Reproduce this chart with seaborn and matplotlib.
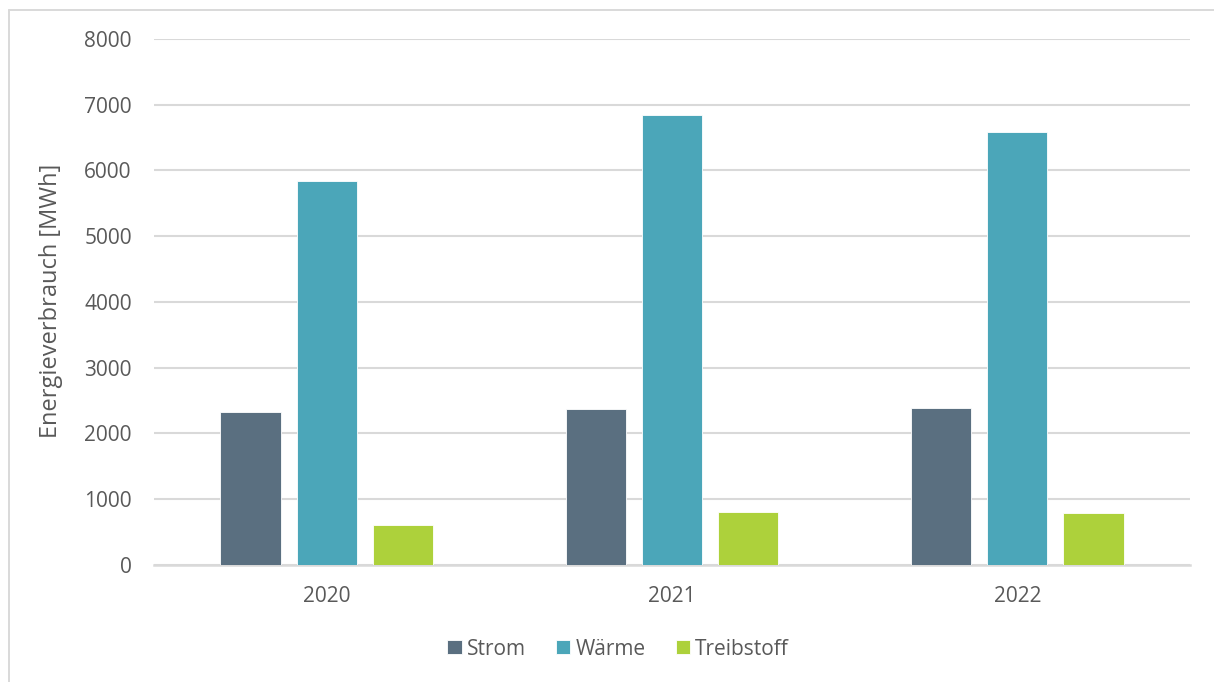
import matplotlib
matplotlib.use("Agg")
import matplotlib.pyplot as plt
from matplotlib.lines import Line2D
import pandas as pd
import seaborn as sns

# Energy consumption per year and carrier (MWh)
years = ["2020", "2021", "2022"]
carriers = ["Strom", "Wärme", "Treibstoff"]
strom = [2322, 2377, 2388]
waerme = [5845, 6839, 6586]
treibstoff = [608, 806, 786]
y_ticks = [0, 1000, 2000, 3000, 4000, 5000, 6000, 7000, 8000]

palette = {"Strom": "#5A6F80", "Wärme": "#4BA6B9", "Treibstoff": "#ADD13B"}
text_color = "#595959"
grid_color = "#D9D9D9"

df = pd.DataFrame({
    "Jahr": years * 3,
    "Träger": [c for c in carriers for _ in years],
    "Wert": strom + waerme + treibstoff,
})

sns.set_theme(style="white")
plt.rcParams["font.family"] = ["Open Sans", "DejaVu Sans"]
plt.rcParams["text.color"] = text_color
plt.rcParams["axes.labelcolor"] = text_color
plt.rcParams["xtick.color"] = text_color
plt.rcParams["ytick.color"] = text_color

fig = plt.figure(figsize=(12.14, 6.82), dpi=100)
ax = fig.add_axes([0.1269, 0.1716, 0.8533, 0.7712])

sns.barplot(data=df, x="Jahr", y="Wert", hue="Träger", order=years,
            hue_order=carriers, palette=palette, width=0.663, gap=0.21,
            saturation=1, errorbar=None, ax=ax, zorder=3, linewidth=0.6)

ax.set_ylim(0, 8000)
ax.set_xlim(-0.5, 2.5)
ax.set_yticks(y_ticks)
ax.set_yticklabels([str(v) for v in y_ticks])
ax.yaxis.grid(True, color=grid_color, linewidth=1.5, zorder=0)
ax.set_axisbelow(True)
for side in ["top", "right", "left"]:
    ax.spines[side].set_visible(False)
ax.spines["bottom"].set_color(grid_color)
ax.spines["bottom"].set_linewidth(1.8)
ax.tick_params(axis="both", length=0, labelsize=15)
ax.tick_params(axis="y", pad=16)
ax.tick_params(axis="x", pad=15)

ax.set_xlabel("")
ax.set_ylabel("Energieverbrauch [MWh]", fontsize=17)
ax.yaxis.set_label_coords(-0.088, 0.502)

sns.move_legend(ax, "center", bbox_to_anchor=(0.448, -0.160), ncol=3,
                frameon=False, title=None, fontsize=15,
                handlelength=0.68, handleheight=0.68, handletextpad=0.25,
                columnspacing=1.45)

# Light frame around the chart area (left and top edges)
fig.add_artist(Line2D([8.5 / 1214, 8.5 / 1214], [0, 1 - 10 / 682],
                      transform=fig.transFigure, color=grid_color, linewidth=1.4))
fig.add_artist(Line2D([8.5 / 1214, 1], [1 - 10 / 682, 1 - 10 / 682],
                      transform=fig.transFigure, color=grid_color, linewidth=1.4))

fig.savefig("out.png", dpi=100, facecolor="white")
